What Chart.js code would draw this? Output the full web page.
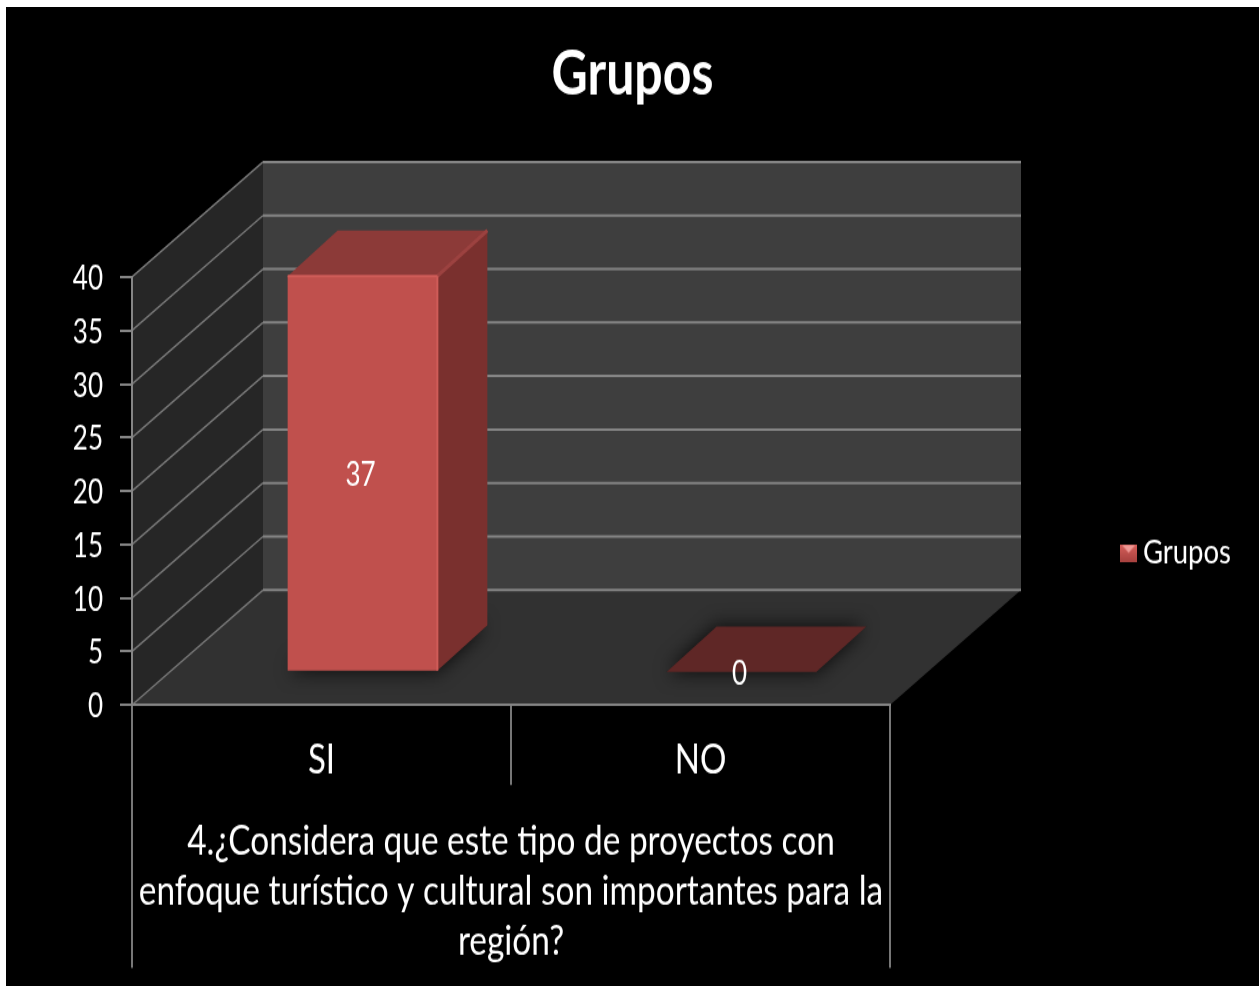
<!DOCTYPE html>
<html>
<head>
<meta charset="utf-8">
<style>
html,body{margin:0;padding:0;background:#fff;overflow:hidden}
#wrap{position:absolute;left:6px;top:7px;width:1253px;height:979px;background:#000;overflow:hidden}
canvas{display:block;transform-origin:0 0;transform:scaleY(1.25032)}
</style>
<script src="https://cdn.jsdelivr.net/npm/chart.js@4"></script>
</head>
<body>
<div id="wrap"><canvas id="c" width="1253" height="783"></canvas></div>
<script>
const categories = ["SI", "NO"];
const seriesName = "Grupos";
const seriesValues = [37, 0];
const chartTitle = "Grupos";
const groupLabel = [
  "4.¿Considera que este tipo de proyectos con",
  "enfoque turístico y cultural son importantes para la",
  "región?"
];

const FONT = '"Lato",sans-serif';
const S = 979 / 783;
const SIDE_PAD = 18;
const WALL = {dx: 131, dy: -115 / S};
const BAR_SHIFT = {dx: 41, dy: -33 / S};
const BAR_DEPTH = {dx: 50, dy: -45.5 / S};
const LINE = '#858585';

function poly(ctx, pts, fill) {
  ctx.beginPath();
  pts.forEach((p, i) => i ? ctx.lineTo(p[0], p[1]) : ctx.moveTo(p[0], p[1]));
  ctx.closePath();
  ctx.fillStyle = fill;
  ctx.fill();
}
function seg(ctx, x1, y1, x2, y2, color, w) {
  ctx.beginPath();
  ctx.moveTo(x1, y1);
  ctx.lineTo(x2, y2);
  ctx.strokeStyle = color;
  ctx.lineWidth = w;
  ctx.stroke();
}
function barBox(bar) {
  const x1 = bar.x - bar.width / 2 + BAR_SHIFT.dx, x2 = bar.x + bar.width / 2 + BAR_SHIFT.dx;
  return {x1, x2, yT: bar.y + BAR_SHIFT.dy, yB: bar.base + BAR_SHIFT.dy};
}

const legendSwatch = document.createElement('canvas');
legendSwatch.width = 17; legendSwatch.height = 14;
(function () {
  const g = legendSwatch.getContext('2d');
  const gr = g.createLinearGradient(0, 0, 0, 14);
  gr.addColorStop(0, '#d8605c'); gr.addColorStop(1, '#a8423f');
  g.fillStyle = gr; g.fillRect(0, 0, 17, 14);
  g.fillStyle = '#f09a96';
  g.beginPath(); g.moveTo(2, 1); g.lineTo(15, 1); g.lineTo(8.5, 7); g.closePath(); g.fill();
})();

const scene3d = {
  id: 'scene3d',
  beforeDatasetsDraw(chart) {
    const {ctx, chartArea: a, scales: {y}} = chart;
    const d = WALL;
    const top = y.getPixelForValue(y.max), zero = y.getPixelForValue(0);
    ctx.save();
    poly(ctx, [[a.left, top], [a.left + d.dx, top + d.dy], [a.left + d.dx, zero + d.dy], [a.left, zero]], '#262626');
    poly(ctx, [[a.left + d.dx, top + d.dy], [a.right + d.dx, top + d.dy], [a.right + d.dx, zero + d.dy], [a.left + d.dx, zero + d.dy]], '#3e3e3e');
    poly(ctx, [[a.left, zero], [a.right, zero], [a.right + d.dx, zero + d.dy], [a.left + d.dx, zero + d.dy]], '#313131');
    y.ticks.forEach(t => {
      const py = y.getPixelForValue(t.value);
      seg(ctx, a.left + d.dx, py + d.dy, a.right + d.dx, py + d.dy, LINE, 2);
      seg(ctx, a.left, py, a.left + d.dx, py + d.dy, '#777', 1.5);
    });
    const meta = chart.getDatasetMeta(0);
    meta.data.forEach((bar, i) => {
      const b = barBox(bar), v = seriesValues[i];
      ctx.save();
      ctx.shadowColor = 'rgba(0,0,0,0.8)';
      ctx.shadowBlur = 16;
      poly(ctx, [[b.x1, b.yB], [b.x2, b.yB], [b.x2 + BAR_DEPTH.dx, b.yB + BAR_DEPTH.dy], [b.x1 + BAR_DEPTH.dx, b.yB + BAR_DEPTH.dy]], '#222');
      ctx.restore();
      if (v > 0) {
        poly(ctx, [[b.x2, b.yT], [b.x2 + BAR_DEPTH.dx, b.yT + BAR_DEPTH.dy], [b.x2 + BAR_DEPTH.dx, b.yB + BAR_DEPTH.dy], [b.x2, b.yB]], '#7a302e');
      }
      poly(ctx, [[b.x1, b.yT], [b.x2, b.yT], [b.x2 + BAR_DEPTH.dx, b.yT + BAR_DEPTH.dy], [b.x1 + BAR_DEPTH.dx, b.yT + BAR_DEPTH.dy]], v > 0 ? '#8c3a38' : '#5f2726');
      if (v > 0) seg(ctx, b.x2, b.yT, b.x2 + BAR_DEPTH.dx, b.yT + BAR_DEPTH.dy, '#9c4240', 3);
    });
    ctx.restore();
    ctx.save();
    ctx.translate(BAR_SHIFT.dx, BAR_SHIFT.dy);
  },
  afterDatasetsDraw(chart) {
    const {ctx, chartArea: a} = chart;
    ctx.restore();
    ctx.save();
    const meta = chart.getDatasetMeta(0);
    meta.data.forEach((bar, i) => {
      const b = barBox(bar), v = seriesValues[i];
      if (v > 0) {
        seg(ctx, b.x1, b.yT, b.x2, b.yT, '#cf5c58', 2);
        seg(ctx, b.x2, b.yT, b.x2, b.yB, '#cf5c58', 2);
      }
      ctx.fillStyle = '#fff';
      ctx.font = '26px ' + FONT;
      ctx.textAlign = 'center';
      ctx.textBaseline = 'middle';
      ctx.fillText(String(v), (b.x1 + b.x2) / 2 - 2, (b.yT + b.yB) / 2 + 1.5);
    });
    const lowerEnd = 961 / S;
    [a.left, a.right].forEach(px => seg(ctx, px, a.bottom, px, lowerEnd, '#777', 2));
    ctx.restore();
  }
};

new Chart(document.getElementById('c'), {
  type: 'bar',
  data: {
    labels: categories,
    datasets: [{
      label: seriesName,
      data: seriesValues,
      backgroundColor: '#c0504d',
      borderWidth: 0,
      barPercentage: 0.395,
      categoryPercentage: 1,
      clip: false,
      pointStyle: legendSwatch
    }]
  },
  options: {
    responsive: false,
    animation: false,
    layout: {padding: {left: SIDE_PAD, right: SIDE_PAD, top: 0, bottom: 0}},
    plugins: {
      tooltip: {enabled: false},
      title: {
        display: true,
        text: chartTitle,
        color: '#fff',
        font: {family: FONT, size: 50, weight: 'bold', lineHeight: 1.2},
        padding: {top: 23.6, bottom: 6}
      },
      legend: {
        display: true,
        position: 'right',
        title: {display: true, text: '', font: {size: 1, lineHeight: 1}, padding: {top: 0, bottom: 89}},
        labels: {
          color: '#fff',
          font: {family: FONT, size: 27.5},
          usePointStyle: true,
          pointStyleWidth: 1,
          padding: 28
        }
      }
    },
    scales: {
      x: {
        position: 'bottom',
        grid: {color: '#777', lineWidth: 2, drawOnChartArea: false, tickLength: 64, z: 1},
        border: {color: LINE, width: 2, z: 1},
        ticks: {color: '#fff', font: {family: FONT, size: 33}, padding: -40, maxRotation: 0},
        title: {
          display: true,
          text: groupLabel,
          color: '#fff',
          font: {family: FONT, size: 33.4, lineHeight: 1.2},
          padding: {top: 0, bottom: 16}
        },
        afterFit(s) { s.height = 281 / S; }
      },
      y: {
        position: 'left',
        min: 0,
        max: 40,
        grid: {color: LINE, lineWidth: 2, drawOnChartArea: false, tickLength: 12, z: 1},
        border: {color: LINE, width: 2, z: 1},
        ticks: {stepSize: 5, color: '#fff', font: {family: FONT, size: 26}, padding: 17, labelOffset: 1.6},
        afterFit(s) { s.width = 126 - SIDE_PAD; }
      },
      xDepth: {
        type: 'linear', axis: 'x', position: 'top', display: true,
        grid: {display: false}, border: {display: false}, ticks: {display: false},
        afterFit(s) {
          const t = s.chart.titleBlock;
          s.height = 270 / S - (t ? t.height : 0);
        }
      },
      yDepth: {
        type: 'linear', axis: 'y', position: 'right', display: true,
        grid: {display: false}, border: {display: false}, ticks: {display: false},
        afterFit(s) {
          const l = s.chart.legend;
          s.width = 1253 - 884 - (l ? l.width : 0) - SIDE_PAD;
        }
      }
    }
  },
  plugins: [scene3d]
});
</script>
</body>
</html>
